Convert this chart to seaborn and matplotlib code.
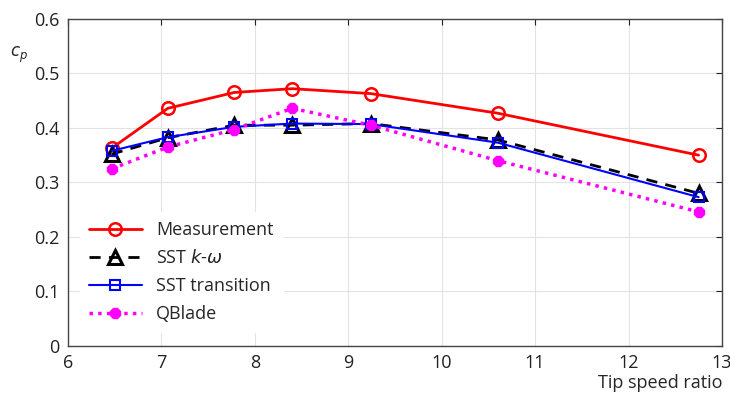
import pandas as pd
import seaborn as sns
import matplotlib.pyplot as plt

sns.set_style("whitegrid")
plt.rcParams["font.family"] = ["Open Sans", "DejaVu Sans"]

tsr = [6.47, 7.07, 7.78, 8.40, 9.24, 10.60, 12.75]
measurement = [0.363, 0.436, 0.465, 0.472, 0.463, 0.427, 0.350]
sst_kw = [0.352, 0.382, 0.405, 0.405, 0.408, 0.378, 0.280]
sst_transition = [0.358, 0.383, 0.402, 0.408, 0.407, 0.373, 0.273]
qblade = [0.325, 0.365, 0.397, 0.436, 0.405, 0.340, 0.246]

series = [
    ("Measurement", measurement, dict(color="red", ls="-", lw=2, marker="o", ms=9, mfc="none", mec="red", mew=1.8)),
    ("SST $k$-$\\omega$", sst_kw, dict(color="black", ls=(0, (4, 3)), lw=2, marker="^", ms=10, mfc="none", mec="black", mew=2.2)),
    ("SST transition", sst_transition, dict(color="blue", ls="-", lw=1.5, marker="s", ms=7, mfc="none", mec="blue", mew=1.5)),
    ("QBlade", qblade, dict(color="magenta", ls=(0, (1, 1.5)), lw=2.5, marker="8", ms=8, mfc="magenta", mec="magenta", mew=1)),
]

fig = plt.figure(figsize=(7.30, 3.94), dpi=100)
ax = fig.add_axes([0.093, 0.122, 0.896, 0.830])

for name, vals, kw in series:
    df = pd.DataFrame({"tsr": tsr, "cp": vals})
    sns.lineplot(data=df, x="tsr", y="cp", ax=ax, label=name, **kw)

ax.set_xlim(6, 13)
ax.set_ylim(0, 0.6)
ax.set_xticks(range(6, 14))
ax.set_yticks([0, 0.1, 0.2, 0.3, 0.4, 0.5, 0.6])
ax.set_yticklabels(["0", "0.1", "0.2", "0.3", "0.4", "0.5", "0.6"])
ax.grid(True, color="#e3e3e3", lw=0.8)
for s in ax.spines.values():
    s.set_color("#444444")
    s.set_linewidth(1)
ax.tick_params(axis="both", direction="in", length=4, labelsize=13, colors="#222222", pad=6)
ax.tick_params(top=True, right=True, labeltop=False, labelright=False)
ax.set_xlabel("")
ax.set_ylabel("")
ax.text(-0.075, 0.89, "$c_p$", transform=ax.transAxes, fontsize=12, ha="center", va="center")
ax.text(0.905, -0.113, "Tip speed ratio", transform=ax.transAxes, fontsize=13, ha="center", va="center")

leg = ax.legend(loc="lower left", bbox_to_anchor=(0.005, 0.015), frameon=True, fontsize=13,
                handlelength=2.9, labelspacing=0.55, borderpad=0.5)
leg.get_frame().set_edgecolor("white")
leg.get_frame().set_facecolor("white")
leg.get_frame().set_alpha(1)

fig.savefig("out.png", dpi=100)
